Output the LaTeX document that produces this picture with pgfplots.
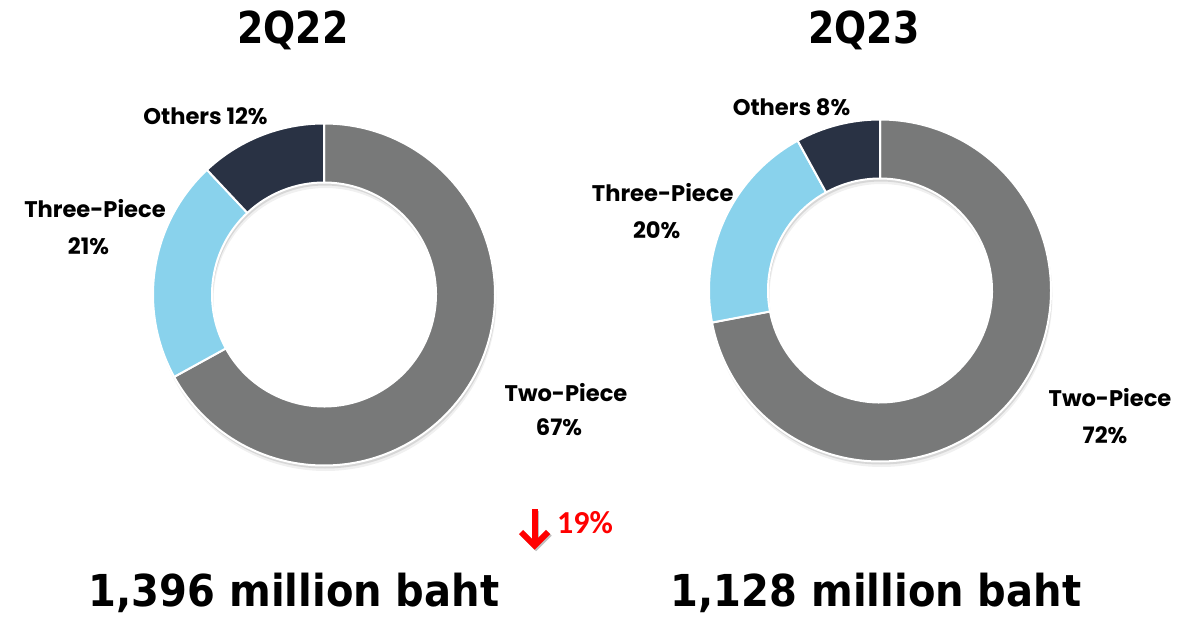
\documentclass[border=0pt]{standalone}
\usepackage{pgfplots}
\pgfplotsset{compat=1.18}
\usepackage{pgfplotstable}
\usepackage{graphicx}
\usepackage{fontspec}
\setmainfont{DejaVu Sans}
\newfontfamily\popp{Poppins}
\newfontfamily\carl{Carlito}
\newfontfamily\dvs{DejaVu Sans}

\definecolor{cTwo}{RGB}{120,121,121}
\definecolor{cThree}{RGB}{137,210,236}
\definecolor{cOther}{RGB}{41,50,68}

% shares (%)
\pgfplotstableread{
label value color
Two-Piece 67 cTwo
Three-Piece 21 cThree
Others 12 cOther
}\dataA
\pgfplotstableread{
label value color
Two-Piece 72 cTwo
Three-Piece 20 cThree
Others 8 cOther
}\dataB

\def\Ro{171}
\def\Ri{112}

\newcommand\donut[3]{%
  \def\cum{0}%
  \pgfplotstablegetrowsof{#1}%
  \pgfmathtruncatemacro\nlast{\pgfplotsretval-1}%
  \edef\tmp{\noexpand\fill[black, opacity=0.10, even odd rule] (#2+1,#3-3) circle[radius=\Ro pt] (#2+1,#3-3) circle[radius=\Ri pt];}\tmp
  \edef\tmp{\noexpand\fill[black, opacity=0.06, even odd rule] (#2+1.5,#3-5.5) circle[radius=\Ro pt] (#2+1.5,#3-5.5) circle[radius=\Ri pt];}\tmp
  \pgfplotsforeachungrouped \i in {0,...,\nlast}{%
    \pgfplotstablegetelem{\i}{value}\of{#1}\let\val\pgfplotsretval
    \pgfplotstablegetelem{\i}{color}\of{#1}\let\col\pgfplotsretval
    \pgfmathsetmacro\angS{90-3.6*\cum}%
    \pgfmathsetmacro\cum{\cum+\val}%
    \pgfmathsetmacro\angE{90-3.6*\cum}%
    \pgfmathsetmacro\xa{#2+\Ro*cos(\angS)}%
    \pgfmathsetmacro\ya{#3+\Ro*sin(\angS)}%
    \pgfmathsetmacro\xb{#2+\Ri*cos(\angE)}%
    \pgfmathsetmacro\yb{#3+\Ri*sin(\angE)}%
    \edef\tmp{\noexpand\fill[\col, draw=white, line width=2pt, line join=round] (\xa,\ya) arc[start angle=\angS, end angle=\angE, radius=\Ro pt] -- (\xb,\yb) arc[start angle=\angE, end angle=\angS, radius=\Ri pt] -- cycle;}%
    \tmp
  }%
}

\newcommand\lab{\popp\bfseries\fontsize{22.6}{23}\selectfont}
\newcommand\bigf{\dvs\bfseries\fontsize{44}{44}\selectfont}

\begin{document}
\begin{tikzpicture}
\begin{axis}[x=1pt, y=1pt, xmin=0, xmax=1186, ymin=0, ymax=622,
  hide axis, clip=false, scale only axis]
\fill[white] (0,0) rectangle (1186,622);
\donut{\dataA}{324}{327.5}
\donut{\dataB}{880}{331.5}
% labels
\node[anchor=base, font=\lab] at (205.5,497) {Others 12\%};
\node[anchor=base, font=\lab] at (95,404) {Three-Piece};
\node[anchor=base, font=\lab] at (88.5,367) {21\%};
\node[anchor=base, font=\lab] at (566,220.3) {Two-Piece};
\node[anchor=base, font=\lab] at (559,187) {67\%};
\node[anchor=base, font=\lab] at (791.5,506) {Others 8\%};
\node[anchor=base, font=\lab] at (662.7,420.3) {Three-Piece};
\node[anchor=base, font=\lab] at (656.7,383.7) {20\%};
\node[anchor=base, font=\lab] at (1110,215.3) {Two-Piece};
\node[anchor=base, font=\lab] at (1105,178.7) {72\%};
% titles
\node[anchor=base, font=\bigf, inner sep=0pt] at (293,578.7) {\scalebox{0.86}[1]{2Q22}};
\node[anchor=base, font=\bigf, inner sep=0pt] at (864,578.7) {\scalebox{0.86}[1]{2Q23}};
% totals
\node[anchor=base, font=\bigf, inner sep=0pt] at (294,16) {\scalebox{0.91}[1]{1,396 million baht}};
\node[anchor=base, font=\bigf, inner sep=0pt] at (876,16) {\scalebox{0.91}[1]{1,128 million baht}};
% change
\draw[black!25, line width=6pt, line join=miter] (536,111) -- (536,76);
\draw[black!25, line width=6pt, line join=miter] (522.5,88.5) -- (536,75) -- (549.5,88.5);
\draw[red, line width=6pt, line join=miter] (534.5,113) -- (534.5,78);
\draw[red, line width=6pt, line join=miter] (521,90) -- (534.5,76.5) -- (548,90);
\node[anchor=base, font=\carl\bfseries\fontsize{32}{32}\selectfont, text=red, inner sep=0pt] at (585,88.7) {19\%};
\end{axis}
\end{tikzpicture}
\end{document}
